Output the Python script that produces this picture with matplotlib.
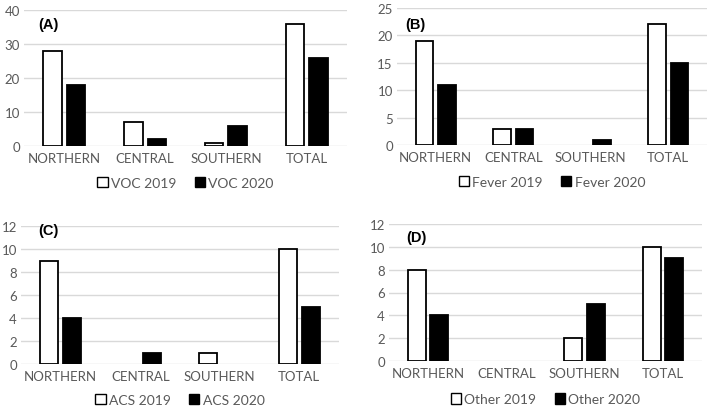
import numpy as np
import matplotlib
matplotlib.use("Agg")
import matplotlib.pyplot as plt
from matplotlib.patches import Patch

plt.rcParams['font.family'] = ['Lato', 'DejaVu Sans']

regions = ['NORTHERN', 'CENTRAL', 'SOUTHERN', 'TOTAL']

voc_2019 = [28, 7, 1, 36]
voc_2020 = [18, 2, 6, 26]
fever_2019 = [19, 3, 0, 22]
fever_2020 = [11, 3, 1, 15]
acs_2019 = [9, 0, 1, 10]
acs_2020 = [4, 1, 0, 5]
other_2019 = [8, 0, 2, 10]
other_2020 = [4, 0, 5, 9]

W, H = 709, 410
fig = plt.figure(figsize=(W / 100, H / 100), dpi=100)

text_col = '#595959'
grid_col = '#d9d9d9'


def px_axes(left, right, top, bottom):
    # pixel box -> figure fraction
    return fig.add_axes([left / W, 1 - bottom / H, (right - left) / W, (bottom - top) / H])


def panel(box, tag, tag_xy, name, s19, s20, ymax, step, leg_y):
    ax = px_axes(*box)
    x = np.arange(len(regions))
    w = 0.23
    off = 0.145
    for vals, col, dx in [(s19, 'white', -off), (s20, 'black', off)]:
        vals = np.array(vals, dtype=float)
        lw = np.where(vals > 0, 1.3, 0)
        ax.bar(x + dx, vals, w, color=col, edgecolor='black', linewidth=lw, zorder=3)
    ax.set_xlim(-0.5, len(regions) - 0.5)
    ax.set_ylim(0, ymax)
    ax.set_yticks(np.arange(0, ymax + 0.1, step))
    ax.set_xticks(x)
    ax.set_xticklabels(regions)
    ax.tick_params(length=0, labelsize=9.5, colors=text_col, pad=4)
    ax.tick_params(axis='y', pad=3)
    for s in ax.spines.values():
        s.set_visible(False)
    ax.yaxis.grid(True, color=grid_col, linewidth=1, zorder=0)
    ax.set_axisbelow(True)
    ax.text(tag_xy[0], tag_xy[1], tag, transform=ax.transAxes, fontsize=10.5,
            fontweight='bold', family=['Liberation Sans'], ha='left', va='center')
    handles = [Patch(facecolor='white', edgecolor='black', linewidth=1),
               Patch(facecolor='black', edgecolor='black', linewidth=1)]
    ax.legend(handles, [name + ' 2019', name + ' 2020'], loc='center',
              bbox_to_anchor=(0.5, leg_y), ncol=2, frameon=False, fontsize=10,
              labelcolor=text_col, handlelength=0.75, handleheight=0.75,
              handletextpad=0.25, columnspacing=1.3)
    return ax


panel((24, 347, 11, 147), '(A)', (0.043, 0.897), 'VOC', voc_2019, voc_2020, 40, 10, -0.27)
panel((397, 707, 9, 146), '(B)', (0.027, 0.88), 'Fever', fever_2019, fever_2020, 25, 5, -0.27)
panel((21, 339, 227, 365), '(C)', (0.054, 0.97), 'ACS', acs_2019, acs_2020, 12, 2, -0.26)
panel((389, 702, 225, 362), '(D)', (0.054, 0.905), 'Other', other_2019, other_2020, 12, 2, -0.28)

fig.savefig('out.png', dpi=100)
